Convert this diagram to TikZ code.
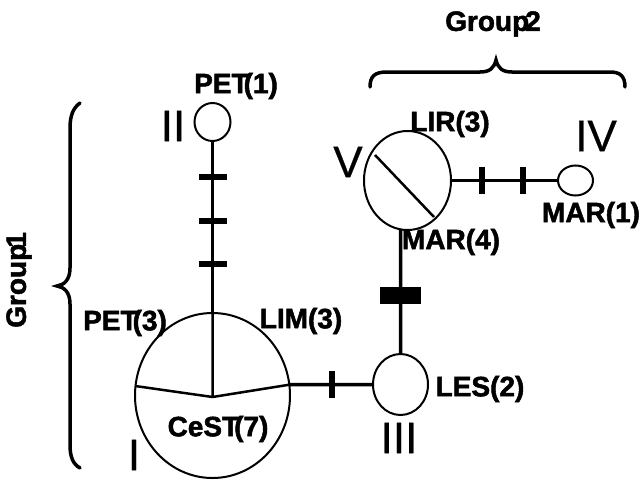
\documentclass[tikz,border=0pt]{standalone}
\usepackage{fontspec}
\setmainfont{Liberation Sans}
\newfontfamily\heavyfont{Liberation Sans}[UprightFont=* Bold, FakeBold=1.8]
\newfontfamily\romfont{Liberation Sans}[FakeBold=0.6]
\usetikzlibrary{shapes.geometric,calc}
\tikzset{
  hap/.style={draw, ellipse, line width=2pt, inner sep=0pt, outer sep=0pt},
  conn/.style={line width=3.5pt},
  sector/.style={line width=2.5pt, line join=bevel},
  hbar/.style={fill=black, rectangle, inner sep=0pt, minimum width=28pt, minimum height=6pt},
  vbar/.style={fill=black, rectangle, inner sep=0pt, minimum width=6pt, minimum height=27pt},
  blockbar/.style={fill=black, rectangle, inner sep=0pt, minimum width=41pt, minimum height=17pt},
  lab/.style={inner sep=0pt, font=\fontsize{28}{30}\heavyfont},
  rom/.style={inner sep=0pt, font=\fontsize{44}{48}\romfont},
  bracestyle/.style={line width=3.5pt, line cap=round}
}
\begin{document}
\begin{tikzpicture}[x=1pt,y=-1pt]
\useasboundingbox (0,0) rectangle (642,479);
% haplotype circles
\node[hap, minimum width=155pt, minimum height=165pt] (I) at (212.5,395.5) {};
\node[hap, minimum width=36pt, minimum height=38pt] (II) at (212.5,122) {};
\node[hap, minimum width=55pt, minimum height=61pt] (III) at (400.5,384.5) {};
\node[hap, minimum width=87pt, minimum height=99pt] (V) at (407.5,180.5) {};
\node[hap, minimum width=35pt, minimum height=30pt] (IV) at (575.5,180.5) {};
% sectors of I
\coordinate (Ic) at (212.5,397);
\draw[sector] (I.north) -- (Ic) -- (I.173);
\draw[sector] (Ic) -- (I.8);
% sector of V
\coordinate (Va) at ($(V.center)+(-32.5,-25.5)$);
\coordinate (Vb) at ($(V.center)+(26.5,36.5)$);
\draw[sector] (Va) -- (Vb);
% connectors
\draw[conn] (II.south) -- (I.north)
  node[hbar, pos=0.209] {} node[hbar, pos=0.465] {} node[hbar, pos=0.715] {};
\draw[conn] (I.8) -- (III.west) node[vbar, pos=0.506] {};
\draw[conn] (III.north) -- (V.-98.7) node[blockbar, pos=0.47] {};
\draw[conn] (V.east) -- (IV.west) node[vbar, pos=0.29] {} node[vbar, pos=0.67] {};
% labels
\node[lab] (lpet1) at (236,86) {PET\kern-5pt(1)};
\node[lab] (lpet3) at (125,323) {PET\kern-5pt(3)};
\node[lab] (llim3) at (301,321) {LIM(3)};
\node[lab] (lcest) at (218,429) {CeST\kern-5pt(7)};
\node[lab] (lles2) at (480,389) {LES(2)};
\node[lab] (lmar4) at (451,242) {MAR(4)};
\node[lab] (llir3) at (450,124) {LIR(3)};
\node[lab] (lmar1) at (591,215) {MAR(1)};
\node[lab] (lg2) at (493,24) {Group\kern-4pt2};
\node[lab, rotate=90] (lg1) at (19,280) {Group\kern-4pt1};
% roman numerals
\node[rom] (rII) at (173,126) {II};
\node[rom] (rIII) at (399,438) {III};
\node[rom] (rIV) at (596,136) {IV};
\node[rom] (rV) at (348,162) {V};
\node[rom] (rI) at (134,455) {I};
% braces
\draw[bracestyle] (370,87) .. controls (370,76) and (375,72) .. (387,72) -- (480,72)
  .. controls (490,72) and (494,68) .. (496,60)
  .. controls (498,68) and (502,72) .. (512,72) -- (610,72)
  .. controls (620,72) and (625,76) .. (625,87);
\draw[bracestyle] (80,103) .. controls (73,108) and (70,116) .. (70,128) -- (70,268)
  .. controls (70,280) and (64,285) .. (57,286)
  .. controls (64,287) and (70,292) .. (70,304) -- (70,445)
  .. controls (70,457) and (73,464) .. (80,468);
\end{tikzpicture}
\end{document}
